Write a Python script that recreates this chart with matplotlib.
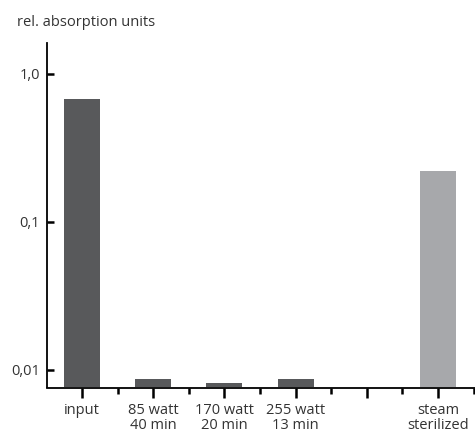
import matplotlib
matplotlib.use("Agg")
import matplotlib.pyplot as plt
from matplotlib.ticker import FixedLocator, NullFormatter

# Data
categories = ["input", "85 watt\n40 min", "170 watt\n20 min", "255 watt\n13 min", "", "steam\nsterilized"]
absorption = [0.68, 0.0087, 0.0081, 0.0087, None, 0.22]
bar_colors = ["#58595b", "#58595b", "#58595b", "#58595b", None, "#a7a8ab"]
y_ticks = [0.01, 0.1, 1.0]
y_tick_labels = ["0,01", "0,1", "1,0"]

plt.rcParams["font.family"] = ["Open Sans", "DejaVu Sans"]
text_color = "#333333"
y_bottom = 0.0076

fig = plt.figure(figsize=(4.75, 4.32), dpi=100)
# axes box in pixels: left 47, right 475, bottom 387.5, top 43
ax = fig.add_axes([47 / 475, (432 - 387.5) / 432, (475 - 47) / 475, (387.5 - 43) / 432])

ax.set_yscale("log")
for i, (val, col) in enumerate(zip(absorption, bar_colors)):
    if val is None:
        continue
    ax.bar(i, val - y_bottom, width=0.505, color=col, bottom=y_bottom, zorder=2)

ax.set_ylim(y_bottom, 1.62)
ax.set_xlim(-0.49, 5.52)

# spines
for side in ["top", "right"]:
    ax.spines[side].set_visible(False)
for side in ["left", "bottom"]:
    ax.spines[side].set_linewidth(1.3)
    ax.spines[side].set_color("black")

# y ticks (inward)
ax.yaxis.set_major_locator(FixedLocator(y_ticks))
ax.set_yticklabels(y_tick_labels)
ax.yaxis.set_minor_formatter(NullFormatter())
ax.tick_params(axis="y", which="minor", left=False)
ax.tick_params(axis="y", which="major", direction="in", length=5, width=1.8,
               labelsize=10.5, labelcolor=text_color, pad=5)

# x ticks (outward, major at categories and minor in between)
ax.set_xticks(range(len(categories)))
ax.set_xticklabels(categories, linespacing=1.0)
ax.set_xticks([i + 0.5 for i in range(len(categories))], minor=True)
ax.tick_params(axis="x", which="major", direction="out", length=7, width=1.8,
               labelsize=10.5, labelcolor=text_color, pad=4)
ax.tick_params(axis="x", which="minor", direction="out", length=4, width=1.8)

fig.text(17 / 475, 1 - 23 / 432, "rel. absorption units", fontsize=10.5,
         color=text_color, va="center", ha="left")

fig.savefig("out.png", dpi=100)
